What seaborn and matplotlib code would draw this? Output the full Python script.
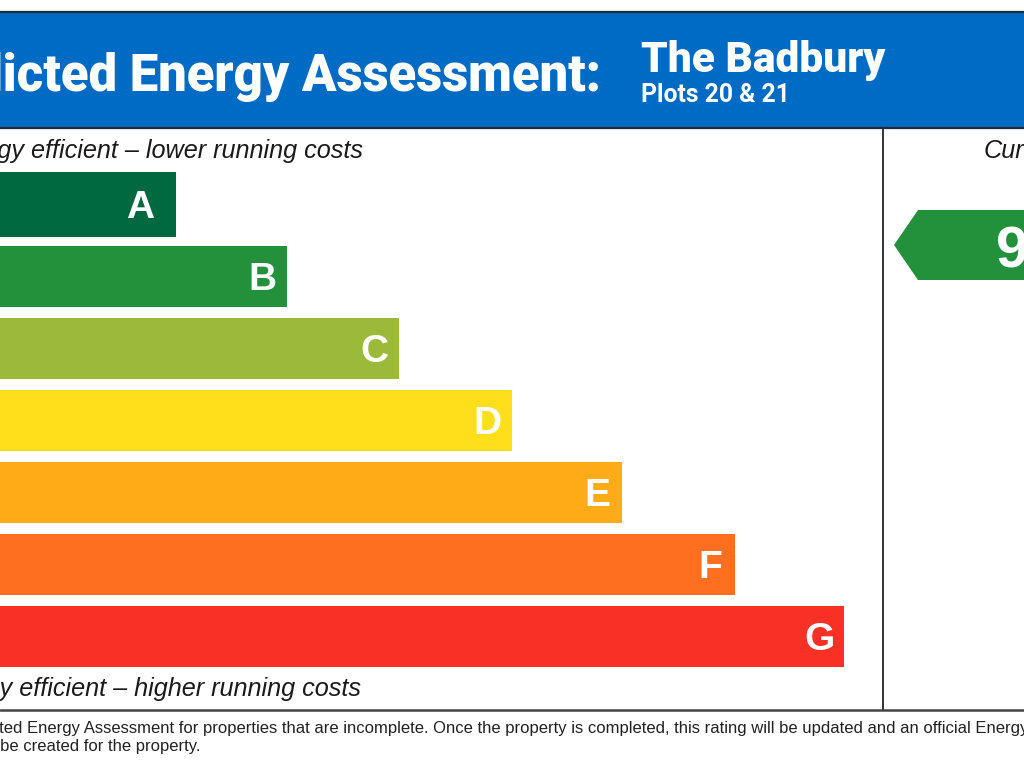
import matplotlib
matplotlib.use('Agg')
import matplotlib.pyplot as plt
import seaborn as sns
import pandas as pd
from matplotlib.patches import Polygon, Rectangle

# values
bands = ['A', 'B', 'C', 'D', 'E', 'F', 'G']
scores = [176, 287, 399, 512, 622, 735, 844]
band_colors = ['#00693f', '#23903c', '#9cba3a', '#ffde1b', '#ffab17', '#ff6f1f', '#f83025']
current_rating = '9'

title = 'Predicted Energy Assessment:'
house = 'The Badbury'
plots = 'Plots 20 & 21'
top_note = 'Very energy efficient \u2013 lower running costs'
bottom_note = 'Not energy efficient \u2013 higher running costs'
column_head = 'Current'
foot_1 = ('This is a Predicted Energy Assessment for properties that are incomplete. '
          'Once the property is completed, this rating will be updated and an official Energy')
foot_2 = 'Performance Certificate will be created for the property.'

sns.set_style('white')
plt.rcParams['font.family'] = ['Liberation Sans', 'DejaVu Sans']

df = pd.DataFrame({'band': bands, 'score': scores})

fig = plt.figure(figsize=(10.24, 7.68), dpi=100, facecolor='white')

# page layer, in pixels
page = fig.add_axes([0, 0, 1, 1])
page.set_xlim(0, 1024)
page.set_ylim(768, 0)
page.axis('off')

page.add_patch(Rectangle((-5, 12), 1040, 116, facecolor='#006bc4', edgecolor='#1c2a3a', lw=1.6))
page.plot([883, 883], [128, 710], color='#333333', lw=1.4)
page.plot([0, 1024], [710, 710], color='#444444', lw=1.8)

page.text(601, 71, title, color='white', fontsize=36.6, fontweight='black', family='Roboto', ha='right', va='center_baseline')
page.text(641, 56, house, color='white', fontsize=30.6, fontweight='black', family='Roboto', ha='left', va='center_baseline')
page.text(641, 93, plots, color='white', fontsize=17.8, fontweight='bold', family='Roboto', ha='left', va='center_baseline')

page.text(363, 151, top_note, color='#1a1a1a', fontsize=18.2, style='italic', ha='right', va='center')
page.text(361, 689, bottom_note, color='#1a1a1a', fontsize=18.2, style='italic', ha='right', va='center')
page.text(984, 151, column_head, color='#1a1a1a', fontsize=18.2, style='italic', ha='left', va='center')

page.text(1028, 729, foot_1, color='#222222', fontsize=12, ha='right', va='center')
page.text(200, 747, foot_2, color='#222222', fontsize=12, ha='right', va='center')

page.add_patch(Polygon([(894, 245), (918, 210), (1030, 210), (1030, 280), (918, 280)],
                       closed=True, facecolor='#23903c', edgecolor='none'))
page.text(996, 247, current_rating, color='white', fontsize=42, fontweight='bold', ha='left', va='center_baseline')

# bars, one category slot = 72 px
ax = fig.add_axes([0, 1 - 672.5 / 768, 1, 504 / 768])
ax.patch.set_alpha(0)
sns.barplot(data=df, x='score', y='band', hue='band', palette=band_colors,
            legend=False, width=0.86, saturation=1, linewidth=0, ax=ax)
ax.set_xlim(0, 1024)
ax.set_ylim(6.5, -0.5)
ax.axis('off')

# the A bar is a little taller than the others
top_bar = ax.patches[0]
top_bar.set_y(-0.45)
top_bar.set_height(0.9)

for i, (band, score) in enumerate(zip(bands, scores)):
    pad = 35 if band == 'A' else 24
    ax.text(score - pad - 1, i - 0.01, band, color='white', fontsize=28, fontweight='bold', ha='center', va='center_baseline')

fig.savefig('out.png', dpi=100)
